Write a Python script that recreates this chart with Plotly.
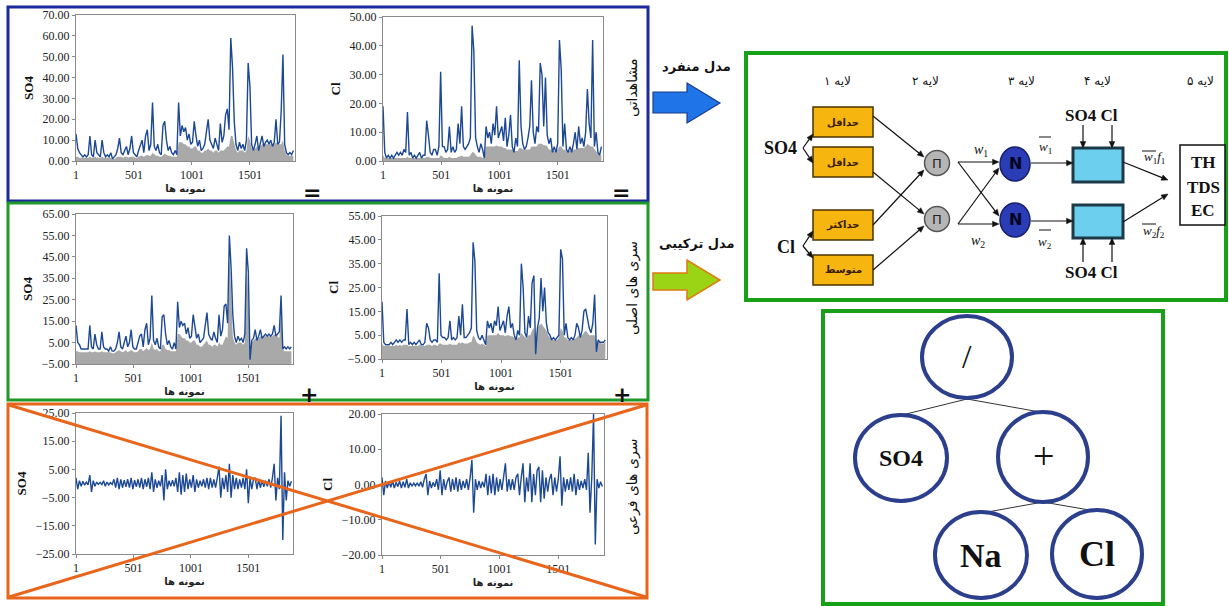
import math
import plotly.graph_objects as go

W, H = 1229, 606
def fx(p): return p / W
def fy(p): return 1 - p / H

# ---------------- DATA ----------------
samples = list(range(1, 1877, 15))          # sample index (نمونه ها)
x_ticks = [1, 501, 1001, 1501]

so4_obs = [13, 6, 4, 3, 2, 3, 2, 3, 12, 3,
           2, 10, 4, 3, 2, 10, 4, 2, 3, 2,
           4, 1, 2, 3, 6, 11, 4, 3, 5, 7,
           3, 6, 12, 4, 3, 2, 5, 8, 10, 4,
           12, 15, 5, 8, 28, 7, 5, 8, 4, 3,
           17, 19, 10, 5, 7, 4, 3, 5, 3, 28,
           12, 17, 14, 16, 10, 13, 8, 9, 19, 12,
           7, 10, 5, 6, 8, 14, 20, 10, 8, 6,
           11, 8, 5, 18, 9, 12, 22, 25, 15, 59,
           45, 19, 8, 5, 9, 6, 8, 5, 10, 47,
           36, 8, 5, 8, 12, 5, 8, 12, 7, 9,
           10, 8, 10, 7, 9, 20, 8, 9, 24, 51,
           8, 4, 3, 4, 3, 5]
so4_obs_area = [2, 2, 1.5, 1.5, 1.5, 1.5, 1.5, 1.5, 2, 1.5,
                1.5, 2, 1.5, 1.5, 1.5, 2, 1.5, 1.5, 1.5, 1.5,
                1.5, 1, 1, 1.5, 2, 2, 2, 1.5, 2, 2,
                1.5, 2, 2, 2, 1.5, 1.5, 2, 2.5, 2.5, 2,
                2.5, 3, 2.5, 2.5, 4, 3, 2.5, 2.5, 2, 2,
                3, 3.5, 3, 2.5, 2.5, 2, 2, 2, 2, 9,
                9, 9, 8, 8, 7, 7, 6, 6, 7, 7,
                5, 5, 4, 4, 5, 5, 6, 5, 5, 4,
                5, 5, 4, 5, 5, 5, 6, 7, 7, 12,
                12, 8, 5, 4, 5, 5, 5, 4, 5, 12,
                10, 6, 5, 6, 7, 6, 7, 8, 8, 8,
                8, 8, 8, 8, 8, 9, 8, 8, 8, 10,
                5, 3, 2.5, 2.5, 2.5, 2.5]

cl_obs = [19, 3, 1, 2, 1, 2, 1, 2, 3, 2,
          3, 2, 4, 3, 17, 2, 3, 1, 2, 1,
          2, 3, 1, 2, 2, 14, 9, 3, 2, 4,
          4, 2, 5, 31, 5, 5, 3, 4, 12, 3,
          5, 3, 4, 13, 6, 19, 5, 4, 5, 6,
          8, 47, 38, 8, 5, 3, 6, 4, 1, 12,
          8, 10, 6, 13, 9, 19, 8, 10, 12, 7,
          15, 5, 9, 16, 5, 3, 8, 5, 35, 12,
          6, 4, 5, 8, 12, 28, 10, 6, 12, 10,
          34, 30, 12, 29, 9, 6, 8, 3, 5, 3,
          6, 42, 32, 5, 13, 4, 3, 5, 3, 6,
          10, 4, 12, 6, 8, 5, 10, 25, 13, 8,
          42, 5, 10, 3, 2, 5]
cl_obs_area = [2, 1, 1, 1, 1, 1, 1, 1, 1, 1,
               1, 1, 1, 1, 1.5, 1, 1, 1, 1, 1,
               1, 1, 1, 1, 1, 1.5, 1.5, 1, 1, 1,
               1, 1, 1, 2, 1.5, 1, 1, 1, 1.5, 1,
               1, 1, 1, 1.5, 1.5, 2, 1.5, 1.5, 1.5, 1.5,
               2, 3, 3, 2, 1.5, 1.5, 1.5, 1, 1, 5,
               5, 5, 5, 5, 5, 5.5, 5, 5, 5, 4.5,
               4.5, 4, 4, 4, 4, 3.5, 3.5, 3.5, 4.5, 4.5,
               4, 4, 4, 4, 4, 5, 5, 5, 5, 6,
               6, 6, 5.5, 5.5, 5, 4, 4, 3.5, 3.5, 3.5,
               4, 5, 5, 4, 4, 3.5, 3.5, 3.5, 3.5, 4,
               4, 4, 4.5, 4.5, 4.5, 4.5, 5, 6, 5.5, 5,
               5, 4, 3.5, 2.5, 2, 2]

so4_main = [13, 5, 4, 2, 2, 2, 2, 2, 13, 3,
            2, 9, 4, 2, 2, 10, 3, 2, 2, 1,
            3, 1, 1, 2, 5, 10, 3, 2, 5, 8,
            3, 5, 11, 3, 2, 2, 5, 8, 9, 3,
            11, 14, 4, 7, 27, 6, 4, 7, 3, 2,
            17, 18, 9, 4, 6, 3, 2, 5, 2, 24,
            12, 15, 13, 14, 9, 12, 7, 8, 18, 11,
            7, 9, 5, 6, 7, 13, 19, 9, 7, 6,
            10, 7, 5, 18, 8, 11, 22, 23, 14, 55,
            40, 18, 8, 5, 8, 6, 7, 5, 9, 49,
            38, -3, 6, 7, 11, 6, 8, 11, 7, 8,
            9, 8, 9, 8, 9, 13, 8, 9, 10, 27,
            2, 3, 2, 3, 2, 3]
so4_main_area = [1, 1, 0.5, 0.5, 0.5, 0.5, 0.5, 0.5, 1, 0.5,
                 0.5, 1, 0.5, 0.5, 0.5, 1, 0.5, 0.5, 0.5, 0.5,
                 0.5, 0, 0, 0.5, 1, 1.5, 1, 0.5, 1, 1.5,
                 0.5, 1, 1.5, 1, 0.5, 0.5, 1, 2, 2, 1,
                 2, 2.5, 1.5, 2, 5, 2, 1.5, 2, 1, 1,
                 4, 4, 2, 1.5, 1.5, 1, 1, 1, 1, 9,
                 9, 8, 7, 7, 6, 6, 5, 5, 6, 6,
                 4, 4, 3, 3, 4, 5, 6, 4, 4, 3,
                 4, 4, 3, 5, 4, 4, 6, 8, 7, 45,
                 30, 8, 5, 4, 5, 5, 5, 4, 5, 40,
                 28, 3, 5, 6, 7, 6, 7, 8, 8, 8,
                 8, 8, 8, 8, 8, 9, 8, 8, 7, 20,
                 2, 1, 1, 1, 1, 1]

cl_main = [19, 2, 1, 1, 1, 2, 1, 2, 3, 2,
           3, 2, 3, 3, 16, 1, 2, 1, 2, 1,
           2, 3, 1, 1, 2, 10, 8, 3, 2, 3,
           3, 2, 31, 5, 4, 4, 3, 4, 11, 3,
           4, 3, 4, 13, 5, 18, 4, 4, 5, 6,
           8, 44, 36, 7, 4, 3, 5, 3, 1, 11,
           8, 10, 6, 11, 9, 17, 7, 9, 11, 6,
           13, 17, 8, 10, 5, 3, 7, 5, 35, 25,
           6, 4, 13, 8, 27, 30, -3, 8, 12, 29,
           15, 25, 10, 6, 5, 3, 4, 3, 4, 5,
           41, 37, 5, 10, 4, 3, 4, 3, 5, 10,
           8, 4, 7, 15, 16, 12, 8, 6, 10, 22,
           -2, 3, 2, 2, 2, 3]
cl_main_area = [1.5, 0.5, 0.5, 0.5, 0.5, 0.5, 0.5, 0.5, 1, 0.5,
                1, 0.5, 1, 1, 1, 0.5, 0.5, 0.5, 0.5, 0.5,
                0.5, 1, 0.5, 0.5, 0.5, 1, 1, 1, 0.5, 1,
                1, 0.5, 1.5, 1.5, 1, 1, 1, 1, 1.5, 1,
                1, 1, 1, 2, 1.5, 2, 1.5, 1.5, 1.5, 2,
                2, 5, 4, 2, 1.5, 1, 1.5, 1, 0.5, 5,
                5, 5, 5, 5, 5, 6, 5, 5, 5, 4.5,
                5, 5, 4.5, 4.5, 4, 3, 4, 4, 6, 5,
                4, 3.5, 5, 5, 7, 8, 4, 8, 9, 10,
                9, 8, 7, 5, 4, 3, 3, 3, 3, 4,
                8, 7, 4, 4, 3, 3, 3, 3, 3.5, 4,
                5, 4, 5, 6, 7, 6, 5, 5, 5, 5,
                2, 2, 2, 1.5, 1.5, 2]

so4_detail = [2, -2, 1, -1, 0.8, -0.6, 0.5, -0.5, 3, -3,
              1, -1, 0.5, -0.3, 0.4, -0.4, 1, -1, 0.5, -0.5,
              0.3, -0.3, 1.5, -1.5, 2, -2, 1.5, -1.5, 1.2, -1.2,
              1.5, -1.5, 2, -2, 1.2, -1.2, 1.5, -1.5, 2, -2,
              1.5, -1.2, 2, -2, 4, -3, 1.5, -1.5, 1, -1,
              3, -6, 5, -2, 1, -1, 1.2, -1, 2, -3,
              4, -4, 3, -3, 3.5, -2, 1.5, -1.5, 3, -3,
              1.5, -1.5, 1, -1, 1.5, -1.5, 2, -2, 2, -1.5,
              1.5, -1.5, 2, 6, -5, 2, -2, 3, -3, 7,
              -5, 3, -2, 2, -2, 1.5, -1.5, 2, -2, 5,
              -7, 2, -2, 1.5, 2, -2, 1.5, -1.5, 1.2, -1.2,
              1, -1, 1.5, -1.5, 2, 7, -6, 2, -2, 24,
              -20, 4, -6, 1, -1, 0.8]

cl_detail = [2, -3, 1, -1, 0.8, -0.8, 1, -1, 0.6, -0.6,
             1, -1, 0.8, -0.8, 1.5, -1, 0.5, -0.5, 0.4, -0.4,
             0.5, -0.5, 0.8, -0.8, 1.5, 3, -3, 1, -1, 0.6,
             -0.6, 1.5, -1.5, 4, -3, 1.5, -1.5, 0.8, 2, -2,
             1.5, -1.5, 2, -2, 1.5, -1.5, 1, -1, 1.5, -1.5,
             2, 7, -8, 1.5, -1.5, 1, -1, 0.8, -0.8, 3,
             -3, 2.5, -2.5, 3, -3, 2, -2, 1.5, -1.5, 2,
             6, -2, 1.5, -1.5, 1.5, -1.5, 2, 3, -3, 2,
             6, -5, 2, -2, 6, -5, 3, -3, 4, 5,
             -5, 4, -4, 2, -2, 1.5, 3, -3, 2, -2,
             1.5, 8, -6, 2, -2, 1.5, -1.5, 2, -2, 3,
             -3, 1.5, -1.5, 1, -1, 1.5, -1.5, 9, -8, 2,
             20, -17, 1.5, -1, 0.8, -0.6]

# ---------------- STYLE ----------------
LINE_BLUE = '#1d4894'
AREA_GRAY = '#a9a9a9'
FRAME = '#8a8a8a'
SERIF = 'Liberation Serif'
FA = 'DejaVu Sans'

# panel: values, area, y range, y label, pixel box (left, right, top, bottom)
panels = [
    (so4_obs, so4_obs_area, 0, 70, 'SO4', (76, 295, 15, 161)),
    (cl_obs, cl_obs_area, 0, 50, 'Cl', (383, 603, 17, 161)),
    (so4_main, so4_main_area, -5, 65, 'SO4', (76, 293, 214, 364)),
    (cl_main, cl_main_area, -5, 55, 'Cl', (382, 607, 216, 359)),
    (so4_detail, None, -25, 25, 'SO4', (76, 293, 413, 554)),
    (cl_detail, None, -20, 20, 'Cl', (382, 604, 414, 555)),
]

fig = go.Figure()
layout_axes = {}
for n, (vals, area, ymin, ymax, ylab, (l, r, t, b)) in enumerate(panels, start=1):
    sfx = '' if n == 1 else str(n)
    xa, ya = 'x' + sfx, 'y' + sfx
    if area is not None:
        fig.add_trace(go.Scatter(x=samples, y=[ymin] * len(samples), mode='lines',
                                 line=dict(width=0, color=AREA_GRAY), xaxis=xa, yaxis=ya,
                                 showlegend=False, hoverinfo='skip'))
        fig.add_trace(go.Scatter(x=samples, y=area, mode='lines', fill='tonexty',
                                 fillcolor=AREA_GRAY, line=dict(width=0, color=AREA_GRAY),
                                 xaxis=xa, yaxis=ya, showlegend=False))
    fig.add_trace(go.Scatter(x=samples, y=vals, mode='lines',
                             line=dict(width=1.4, color=LINE_BLUE),
                             xaxis=xa, yaxis=ya, showlegend=False))
    layout_axes['xaxis' + sfx] = dict(
        domain=[fx(l), fx(r)], anchor=ya, range=[1, 1890], automargin=False,
        tickvals=x_ticks, ticktext=[str(v) for v in x_ticks],
        showline=True, mirror=True, linecolor=FRAME, linewidth=1,
        ticks='outside', ticklen=3, tickcolor=FRAME, showgrid=False, zeroline=False,
        tickfont=dict(family=SERIF, size=12, color='#222'),
        title=dict(text='<b>نمونه ها</b>', font=dict(family=FA, size=10, color='#222'), standoff=3))
    layout_axes['yaxis' + sfx] = dict(
        domain=[fy(b), fy(t)], anchor=xa, range=[ymin, ymax], automargin=False,
        tickvals=list(range(ymin, ymax + 1, 10)), tickformat='.2f',
        showline=True, mirror=True, linecolor=FRAME, linewidth=1,
        ticks='outside', ticklen=3, tickcolor=FRAME, showgrid=False, zeroline=False,
        tickfont=dict(family=SERIF, size=12, color='#222'),
        title=dict(text='<b>' + ylab + '</b>', font=dict(family=SERIF, size=13, color='#111'), standoff=6))

# ---------------- SHAPES ----------------
shapes = []
def rect(x0, y0, x1, y1, line, width, fill='rgba(0,0,0,0)', layer='above'):
    shapes.append(dict(type='rect', xref='paper', yref='paper', x0=fx(x0), x1=fx(x1),
                       y0=fy(y1), y1=fy(y0), line=dict(color=line, width=width),
                       fillcolor=fill, layer=layer))
def seg(x0, y0, x1, y1, color, width):
    shapes.append(dict(type='line', xref='paper', yref='paper', x0=fx(x0), y0=fy(y0),
                       x1=fx(x1), y1=fy(y1), line=dict(color=color, width=width), layer='above'))
def ellipse(cx, cy, rx, ry, fill, line, width):
    shapes.append(dict(type='circle', xref='paper', yref='paper', x0=fx(cx - rx), x1=fx(cx + rx),
                       y0=fy(cy + ry), y1=fy(cy - ry), fillcolor=fill,
                       line=dict(color=line, width=width), layer='above'))
def poly(pts, fill, line, width):
    d = 'M ' + ' L '.join(f'{fx(x):.5f},{fy(y):.5f}' for x, y in pts) + ' Z'
    shapes.append(dict(type='path', xref='paper', yref='paper', path=d, fillcolor=fill,
                       line=dict(color=line, width=width), layer='above'))
def arrow(x0, y0, x1, y1, w=1.2, color='#111', L=6.5, hw=2.8):
    dx, dy = x1 - x0, y1 - y0
    d = math.hypot(dx, dy)
    ux, uy = dx / d, dy / d
    bx, by = x1 - ux * L, y1 - uy * L
    seg(x0, y0, bx, by, color, w)
    poly([(x1, y1), (bx - uy * hw, by + ux * hw), (bx + uy * hw, by - ux * hw)], color, color, 0.5)

# row frames
rect(8, 7, 648, 201, '#1c2a9c', 3)
rect(8, 203, 648, 400, '#1f9a2a', 3)
rect(8, 404, 647, 598, '#e8661c', 3)
seg(9, 405, 646, 597, '#e8661c', 3)
seg(9, 597, 646, 405, '#e8661c', 3)

# model arrows
poly([(653, 92), (687, 92), (687, 83), (720, 103), (687, 123), (687, 113), (653, 113)],
     '#1f74e8', '#1b3c8c', 1.2)
poly([(653, 273), (687, 273), (687, 260), (720, 280), (687, 300), (687, 290), (653, 290)],
     '#9bd415', '#e07a10', 1.5)

# ANFIS box
rect(746, 53, 1226, 300, '#18a018', 4)
for (y0, y1) in [(107, 137), (147, 177), (210, 240), (255, 285)]:
    rect(813, y0, 873, y1, '#4a3500', 1.5, fill='#f6b50f')
for cy in [163, 219]:
    ellipse(937, cy, 12.5, 12.5, '#b5b5b5', '#555555', 1.5)
for cy in [164, 220]:
    ellipse(1015, cy, 15, 17, '#2a3cb6', '#17206a', 1.5)
rect(1073, 148, 1123, 182, '#1d3a48', 3, fill='#6ccfee')
rect(1073, 205, 1123, 238, '#1d3a48', 3, fill='#6ccfee')
rect(1180, 145, 1225, 225, '#111111', 1.5, fill='white')
# overbars
seg(1039, 137, 1051, 137, '#111', 1)
seg(1039, 230, 1051, 230, '#111', 1)
seg(1142, 151, 1156, 151, '#111', 1)
seg(1142, 224, 1156, 224, '#111', 1)

# connections
arrow(803, 148, 813, 134)
arrow(803, 148, 813, 163)
arrow(803, 246, 813, 231)
arrow(803, 246, 813, 258)
arrow(873, 116, 924, 157)
arrow(873, 172, 924, 214)
arrow(873, 225, 924, 170)
arrow(873, 270, 924, 226)
arrow(958, 162, 999, 162)
arrow(958, 162, 999, 216)
arrow(958, 224, 999, 168)
arrow(958, 224, 999, 224)
arrow(1031, 163, 1073, 163)
arrow(1031, 221, 1073, 221)
arrow(1083, 125, 1083, 148)
arrow(1112, 125, 1112, 148)
arrow(1083, 262, 1083, 238)
arrow(1112, 262, 1112, 238)
arrow(1123, 162, 1168, 180)
arrow(1123, 222, 1168, 194)

# tree box
rect(823, 311, 1163, 604, '#18a018', 4)
seg(967, 399, 902, 415, '#333', 1)
seg(967, 399, 1040, 412, '#333', 1)
seg(1043, 502, 982, 513, '#333', 1)
seg(1043, 502, 1095, 511, '#333', 1)
NAVY = '#2c3f8c'
ellipse(967, 357, 45, 41, 'white', NAVY, 4)
ellipse(901, 458, 46, 43, 'white', NAVY, 4)
ellipse(1043, 457, 45, 45, 'white', NAVY, 4)
ellipse(981, 555, 46, 43, 'white', NAVY, 4)
ellipse(1097, 554, 45, 44, 'white', NAVY, 4)

# ---------------- ANNOTATIONS ----------------
ann = []
def text(x, y, s, size, family=SERIF, color='#111', angle=0):
    ann.append(dict(x=fx(x), y=fy(y), xref='paper', yref='paper', text=s, showarrow=False,
                    xanchor='center', yanchor='middle', textangle=angle,
                    font=dict(family=family, size=size, color=color)))

for (x, y, s) in [(312, 192, '='), (621, 192, '='), (309, 394, '+'), (622, 394, '+')]:
    text(x, y, '<b>' + s + '</b>', 22, family='DejaVu Sans', color='#111')
text(632, 88, 'مشاهداتی', 14, family=FA, angle=-90)
text(632, 288, 'سری های اصلی', 14, family=FA, angle=-90)
text(632, 487, 'سری های فرعی', 14, family=FA, angle=-90)
text(696, 67, '<b>مدل منفرد</b>', 13, family=FA)
text(697, 243, '<b>مدل ترکیبی</b>', 13, family=FA)

for x, d in [(837, '۱'), (925, '۲'), (1021, '۳'), (1097, '۴'), (1200, '۵')]:
    text(x, 81, 'لایه ' + d, 12, family=FA)
for (cy, s) in [(122, 'حداقل'), (162, 'حداقل'), (225, 'حداکثر'), (270, 'متوسط')]:
    text(843, cy, '<b>' + s + '</b>', 10, family=FA, color='#3a2000')
text(780, 148, '<b>SO4</b>', 18)
text(786, 247, '<b>Cl</b>', 18)
for cy in [163, 219]:
    text(937, cy, 'Π', 13, family='DejaVu Sans', color='#222')
text(981, 150, '<i>w</i><sub>1</sub>', 14)
text(978, 241, '<i>w</i><sub>2</sub>', 14)
for cy in [164, 220]:
    text(1015, cy, '<b>N</b>', 16, family='DejaVu Sans', color='#050520')
text(1045, 147, '<i>w</i><sub>1</sub>', 13)
text(1045, 242, '<i>w</i><sub>2</sub>', 13)
text(1091, 115, '<b>SO4 Cl</b>', 17)
text(1091, 272, '<b>SO4 Cl</b>', 17)
text(1154, 158, '<i>w</i><sub>1</sub><i>f</i><sub>1</sub>', 13)
text(1154, 232, '<i>w</i><sub>2</sub><i>f</i><sub>2</sub>', 13)
text(1203, 162, '<b>TH</b>', 17)
text(1203, 187, '<b>TDS</b>', 17)
text(1203, 211, '<b>EC</b>', 17)

text(967, 356, '/', 34)
text(901, 458, '<b>SO4</b>', 24)
text(1043, 456, '+', 38)
text(981, 555, '<b>Na</b>', 34)
text(1097, 554, '<b>Cl</b>', 36)

fig.update_layout(width=W, height=H, margin=dict(l=0, r=0, t=0, b=0, autoexpand=False),
                  paper_bgcolor='white', plot_bgcolor='rgba(0,0,0,0)',
                  shapes=shapes, annotations=ann, showlegend=False, **layout_axes)
fig.write_html('out.html', config={'displayModeBar': False},
               post_script="document.body.style.margin='0';document.body.style.overflow='hidden';")
